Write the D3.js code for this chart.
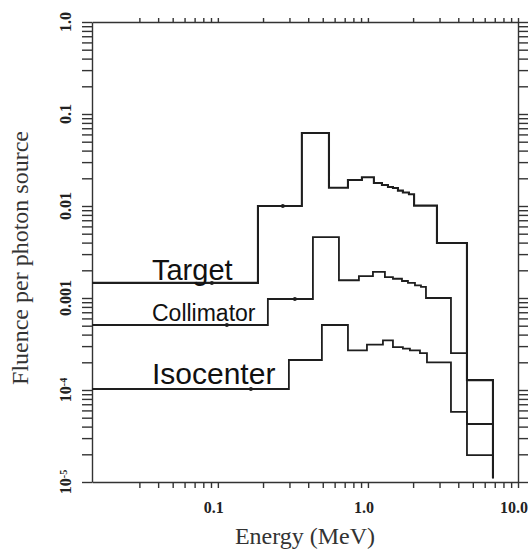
<!DOCTYPE html>
<html>
<head>
<meta charset="utf-8">
<script src="https://cdn.jsdelivr.net/npm/d3@7"></script>
<style>
  body { margin: 0; background: #fff; }
  svg { display: block; }
  .axis path, .axis line { stroke: #333; stroke-width: 1.4; }
  .tick-lab { font-family: "Liberation Serif", "DejaVu Serif", serif; font-weight: bold; font-size: 16px; fill: #222; }
  .title { font-family: "Liberation Serif", serif; font-size: 24px; fill: #333; }
  .curve-lab { font-family: "Liberation Sans", Arial, sans-serif; fill: #111; }
</style>
</head>
<body>
<div id="chart"></div>
<script>
// energy bin edges (MeV) and fluence per bin
var xMin = 0.0145, xMax = 10;
var yMin = 1e-5, yMax = 1;
var endValue = 1.1e-5;

var targetEdges = [0.0145, 0.185, 0.363, 0.55, 0.736, 0.912, 1.096, 1.24, 1.36, 1.468, 1.585, 1.71, 1.876, 2.03, 2.884, 4.57, 6.81];
var targetValues = [0.00146, 0.0100, 0.0621, 0.0158, 0.0192, 0.0205, 0.0178, 0.0169, 0.0161, 0.0157, 0.0147, 0.0140, 0.0134, 0.0101, 0.00396, 1.28e-4];

var collEdges = [0.0145, 0.2154, 0.43, 0.641, 0.871, 1.08, 1.298, 1.468, 1.686, 1.848, 2.058, 2.256, 2.436, 3.575, 4.57, 6.81];
var collValues = [5.09e-4, 9.75e-4, 0.0046, 0.00156, 0.00173, 0.00192, 0.00169, 0.00162, 0.00153, 0.00146, 0.00137, 0.00132, 0.00100, 2.52e-4, 4.27e-5];

var isoEdges = [0.0145, 0.2974, 0.4934, 0.736, 0.985, 1.259, 1.468, 1.71, 1.905, 2.222, 2.474, 3.575, 4.57, 6.81];
var isoValues = [1.025e-4, 2.12e-4, 5.09e-4, 2.70e-4, 3.11e-4, 3.47e-4, 2.93e-4, 2.81e-4, 2.70e-4, 2.52e-4, 2.00e-4, 5.77e-5, 1.96e-5];

// small markers sitting on the flat parts
var dots = [
  {e: 0.0912, v: 0.00146},
  {e: 0.271, v: 0.0100},
  {e: 0.1148, v: 5.09e-4},
  {e: 0.326, v: 9.75e-4},
  {e: 0.166, v: 1.025e-4}
];

var xLabels = [{v: 0.1, t: "0.1"}, {v: 1, t: "1.0"}, {v: 10, t: "10.0"}];
var yLabels = [{v: 1, t: "1.0"}, {v: 0.1, t: "0.1"}, {v: 0.01, t: "0.01"}, {v: 0.001, t: "0.001"},
               {v: 1e-4, t: "10", s: "-4"}, {v: 1e-5, t: "10", s: "-5"}];

var curveLabels = [
  {t: "Target", e: 0.0364, v: 0.00155, size: 29},
  {t: "Collimator", e: 0.0364, v: 5.6e-4, size: 23},
  {t: "Isocenter", e: 0.0364, v: 1.15e-4, size: 30}
];

var svgwidth = 530, svgheight = 549;
var margin = {top: 22, right: 12, bottom: 67, left: 92};
var width = svgwidth - margin.left - margin.right,
    height = svgheight - margin.top - margin.bottom;

var svg = d3.select("#chart").append("svg")
    .attr("width", svgwidth)
    .attr("height", svgheight)
  .append("g")
    .attr("transform", "translate(" + margin.left + "," + margin.top + ")");

var x = d3.scaleLog().domain([xMin, xMax]).range([0, width]);
var y = d3.scaleLog().domain([yMin, yMax]).range([height, 0]);

var xt = x.ticks().filter(d => d >= 0.025);
var yt = y.ticks();

svg.append("g").attr("class", "axis")
    .attr("transform", "translate(0," + height + ")")
    .call(d3.axisBottom(x).tickValues(xt).tickSize(6).tickSizeOuter(0).tickFormat(""));
svg.append("g").attr("class", "axis")
    .call(d3.axisTop(x).tickValues(xt).tickSize(4).tickSizeOuter(0).tickFormat(""));
svg.append("g").attr("class", "axis")
    .call(d3.axisLeft(y).tickValues(yt).tickSize(10).tickSizeOuter(0).tickFormat(""));
svg.append("g").attr("class", "axis")
    .attr("transform", "translate(" + width + ",0)")
    .call(d3.axisRight(y).tickValues(yt).tickSize(10).tickSizeOuter(0).tickFormat(""));

// bottom decade labels
svg.selectAll(".xlab")
    .data(xLabels)
  .enter().append("text")
    .attr("class", "tick-lab")
    .attr("x", d => x(d.v) - 4)
    .attr("y", height + 31)
    .attr("text-anchor", "middle")
    .text(d => d.t);

// left decade labels, rotated
var yl = svg.selectAll(".ylab")
    .data(yLabels)
  .enter().append("text")
    .attr("class", "tick-lab")
    .attr("font-size", "15px")
    .attr("text-anchor", "middle")
    .attr("transform", d => "translate(-21," + y(d.v) + ") rotate(-90)");
yl.append("tspan").text(d => d.t);
yl.filter(d => d.s).append("tspan")
    .attr("dy", "-0.45em")
    .attr("font-size", "10px")
    .text(d => d.s);

// step curves
var line = d3.line()
    .x(d => x(d[0]))
    .y(d => y(d[1]))
    .curve(d3.curveStepAfter);

function stepPoints(edges, values) {
  var pts = values.map((v, i) => [edges[i], v]);
  pts.push([edges[edges.length - 1], values[values.length - 1]]);
  pts.push([edges[edges.length - 1], endValue]);
  return pts;
}

[[targetEdges, targetValues, 2.1], [collEdges, collValues, 1.8], [isoEdges, isoValues, 1.8]].forEach(function(c) {
  svg.append("path")
      .attr("d", line(stepPoints(c[0], c[1])))
      .attr("fill", "none")
      .attr("stroke", "#1e1e1e")
      .attr("stroke-width", c[2]);
});

svg.selectAll(".dot")
    .data(dots)
  .enter().append("circle")
    .attr("cx", d => x(d.e))
    .attr("cy", d => y(d.v))
    .attr("r", 2)
    .attr("fill", "#1e1e1e");

svg.selectAll(".clab")
    .data(curveLabels)
  .enter().append("text")
    .attr("class", "curve-lab")
    .attr("x", d => x(d.e))
    .attr("y", d => y(d.v))
    .attr("font-size", d => d.size + "px")
    .text(d => d.t);

// axis titles
svg.append("text")
    .attr("class", "title")
    .attr("x", width / 2)
    .attr("y", height + 62)
    .attr("text-anchor", "middle")
    .text("Energy (MeV)");

svg.append("text")
    .attr("class", "title")
    .attr("text-anchor", "middle")
    .attr("transform", "translate(-64," + (height / 2 + 6) + ") rotate(-90)")
    .text("Fluence per photon source");
</script>
</body>
</html>
